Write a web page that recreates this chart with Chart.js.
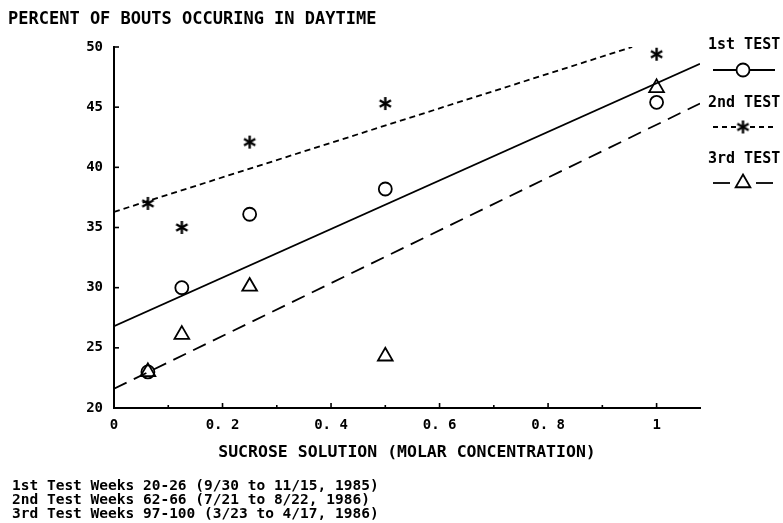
<!DOCTYPE html>
<html>
<head>
<meta charset="utf-8">
<script src="https://cdn.jsdelivr.net/npm/chart.js@4.4.1/dist/chart.umd.min.js"></script>
<style>
  html, body { margin: 0; padding: 0; background: #ffffff; }
  #wrap { width: 783px; height: 523px; position: relative; }
</style>
</head>
<body>
<div id="wrap"><canvas id="c" width="783" height="523"></canvas></div>
<script>
// ---- data ----
const concentrations = [0.0625, 0.125, 0.25, 0.5, 1.0];
const test1 = [23.0, 30.0, 36.1, 38.2, 45.4];
const test2 = [37.0, 35.0, 42.1, 45.3, 49.4];
const test3 = [23.0, 26.1, 30.1, 24.3, 46.6];

// fitted lines (end points)
const fit1X = [0, 1.08];  const fit1Y = [26.8, 48.6];
const fit2X = [0, 0.955]; const fit2Y = [36.3, 50.0];
const fit3X = [0, 1.08];  const fit3Y = [21.6, 45.3];

const seriesNames = ['1st TEST', '2nd TEST', '3rd TEST'];
const xTickValues = [0, 0.2, 0.4, 0.6, 0.8, 1.0];
const xTickLabels = ['0', '0. 2', '0. 4', '0. 6', '0. 8', '1'];
const xMinorTicks = [0.1, 0.3, 0.5, 0.7, 0.9];
const yTickValues = [20, 25, 30, 35, 40, 45, 50];

const titleText = 'PERCENT OF BOUTS OCCURING IN DAYTIME';
const xTitleText = 'SUCROSE SOLUTION (MOLAR CONCENTRATION)';
const footnotes = [
  '1st Test Weeks 20-26 (9/30 to 11/15, 1985)',
  '2nd Test Weeks 62-66 (7/21 to 8/22, 1986)',
  '3rd Test Weeks 97-100 (3/23 to 4/17, 1986)'
];

const FONT = '"DejaVu Sans Mono", "Liberation Mono", monospace';

// asterisk point style (6 spokes)
function makeAsterisk(size, lw) {
  const c = document.createElement('canvas');
  c.width = size; c.height = size;
  const g = c.getContext('2d');
  const r = size / 2 - 1;
  g.strokeStyle = '#000'; g.lineWidth = lw; g.lineCap = 'butt';
  g.translate(size / 2, size / 2);
  for (let k = 0; k < 3; k++) {
    const a = Math.PI / 2 + k * Math.PI / 3;
    g.beginPath();
    g.moveTo(Math.cos(a) * r, Math.sin(a) * r);
    g.lineTo(-Math.cos(a) * r, -Math.sin(a) * r);
    g.stroke();
  }
  return c;
}
const asterisk = makeAsterisk(15, 2.4);

function pts(xs, ys) { return xs.map((x, i) => ({ x: x, y: ys[i] })); }

const markerBase = { showLine: false, borderColor: '#000', backgroundColor: 'rgba(0,0,0,0)', clip: false };

const datasets = [
  Object.assign({}, markerBase, { label: seriesNames[0], data: pts(concentrations, test1), pointStyle: 'circle', pointRadius: 6.5, pointBorderWidth: 1.8 }),
  Object.assign({}, markerBase, { label: seriesNames[1], data: pts(concentrations, test2), pointStyle: asterisk, pointRadius: 7 }),
  Object.assign({}, markerBase, { label: seriesNames[2], data: pts(concentrations, test3), pointStyle: 'triangle', pointRadius: 8.5, pointBorderWidth: 1.8 }),
  { label: 'fit1', data: pts(fit1X, fit1Y), showLine: true, pointRadius: 0, borderColor: '#000', borderWidth: 1.8, borderDash: [] },
  { label: 'fit2', data: pts(fit2X, fit2Y), showLine: true, pointRadius: 0, borderColor: '#000', borderWidth: 1.8, borderDash: [6, 4] },
  { label: 'fit3', data: pts(fit3X, fit3Y), showLine: true, pointRadius: 0, borderColor: '#000', borderWidth: 1.8, borderDash: [14, 8] }
];

// draws tick marks, title, legend and footnotes
const decor = {
  id: 'decor',
  afterDraw(chart) {
    const ctx = chart.ctx;
    const xs = chart.scales.x, ys = chart.scales.y;
    const ca = chart.chartArea;
    ctx.save();
    ctx.strokeStyle = '#000';
    ctx.lineWidth = 1.6;
    ctx.setLineDash([]);
    // x ticks (inward)
    xTickValues.forEach(v => {
      const px = xs.getPixelForValue(v);
      ctx.beginPath(); ctx.moveTo(px, ca.bottom); ctx.lineTo(px, ca.bottom - 5); ctx.stroke();
    });
    xMinorTicks.forEach(v => {
      const px = xs.getPixelForValue(v);
      ctx.beginPath(); ctx.moveTo(px, ca.bottom); ctx.lineTo(px, ca.bottom - 3); ctx.stroke();
    });
    // y ticks (inward)
    yTickValues.forEach(v => {
      const py = ys.getPixelForValue(v);
      ctx.beginPath(); ctx.moveTo(ca.left, py); ctx.lineTo(ca.left + 5, py); ctx.stroke();
    });

    ctx.fillStyle = '#000';
    ctx.textBaseline = 'middle';
    ctx.textAlign = 'left';
    // main title
    ctx.font = 'bold 17px ' + FONT;
    ctx.fillText(titleText, 8, 20);
    // footnotes
    ctx.font = 'bold 14.5px ' + FONT;
    footnotes.forEach((t, i) => ctx.fillText(t, 12, 486 + i * 14));

    // legend
    const legendItems = [
      { label: seriesNames[0], ty: 45, ly: 70, kind: 'circle' },
      { label: seriesNames[1], ty: 103, ly: 127, kind: 'star' },
      { label: seriesNames[2], ty: 159, ly: 183, kind: 'triangle' }
    ];
    const mx = 743;
    legendItems.forEach(it => {
      ctx.font = 'bold 15px ' + FONT;
      ctx.fillStyle = '#000';
      ctx.fillText(it.label, 708, it.ty);
      ctx.lineWidth = 1.8;
      if (it.kind === 'circle') {
        ctx.setLineDash([]);
        ctx.beginPath(); ctx.moveTo(713, it.ly); ctx.lineTo(775, it.ly); ctx.stroke();
        ctx.beginPath(); ctx.arc(mx, it.ly, 6.5, 0, Math.PI * 2);
        ctx.fillStyle = '#fff'; ctx.fill(); ctx.stroke();
      } else if (it.kind === 'star') {
        ctx.setLineDash([5, 4]);
        ctx.beginPath(); ctx.moveTo(713, it.ly); ctx.lineTo(736, it.ly); ctx.stroke();
        ctx.beginPath(); ctx.moveTo(750, it.ly); ctx.lineTo(775, it.ly); ctx.stroke();
        ctx.setLineDash([]);
        ctx.drawImage(asterisk, mx - asterisk.width / 2, it.ly - asterisk.height / 2);
      } else {
        ctx.setLineDash([]);
        ctx.beginPath(); ctx.moveTo(713, it.ly); ctx.lineTo(730, it.ly); ctx.stroke();
        ctx.beginPath(); ctx.moveTo(756, it.ly); ctx.lineTo(773, it.ly); ctx.stroke();
        const r = 8.5;
        ctx.beginPath();
        for (let k = 0; k < 3; k++) {
          const a = k * 2 * Math.PI / 3;
          const px = mx + Math.sin(a) * r, py = it.ly - Math.cos(a) * r;
          if (k === 0) ctx.moveTo(px, py); else ctx.lineTo(px, py);
        }
        ctx.closePath(); ctx.stroke();
      }
    });
    ctx.restore();
  }
};

new Chart(document.getElementById('c'), {
  type: 'scatter',
  data: { datasets: datasets },
  options: {
    responsive: false,
    animation: false,
    devicePixelRatio: 1,
    layout: { padding: { left: 0, top: 47, right: 83, bottom: 0 } },
    plugins: { legend: { display: false }, tooltip: { enabled: false }, title: { display: false } },
    scales: {
      x: {
        type: 'linear', min: 0, max: 1.08,
        grid: { display: false, drawTicks: false },
        border: { display: true, color: '#000', width: 2 },
        afterBuildTicks: s => { s.ticks = xTickValues.map(v => ({ value: v })); },
        afterFit: s => { s.height = 115; },
        ticks: {
          autoSkip: false, maxRotation: 0, padding: 9, color: '#000',
          font: { family: FONT, size: 14, weight: 'bold' },
          callback: (v, i) => xTickLabels[i]
        },
        title: {
          display: true, text: xTitleText, color: '#000',
          font: { family: FONT, size: 16.5, weight: 'bold' },
          padding: { top: 0, bottom: 60 }
        }
      },
      y: {
        type: 'linear', min: 20, max: 50,
        grid: { display: false, drawTicks: false },
        border: { display: true, color: '#000', width: 2 },
        afterBuildTicks: s => { s.ticks = yTickValues.map(v => ({ value: v })); },
        afterFit: s => { s.width = 114; },
        ticks: {
          padding: 11, color: '#000',
          font: { family: FONT, size: 14, weight: 'bold' },
          callback: v => String(v)
        }
      }
    }
  },
  plugins: [decor]
});
</script>
</body>
</html>
